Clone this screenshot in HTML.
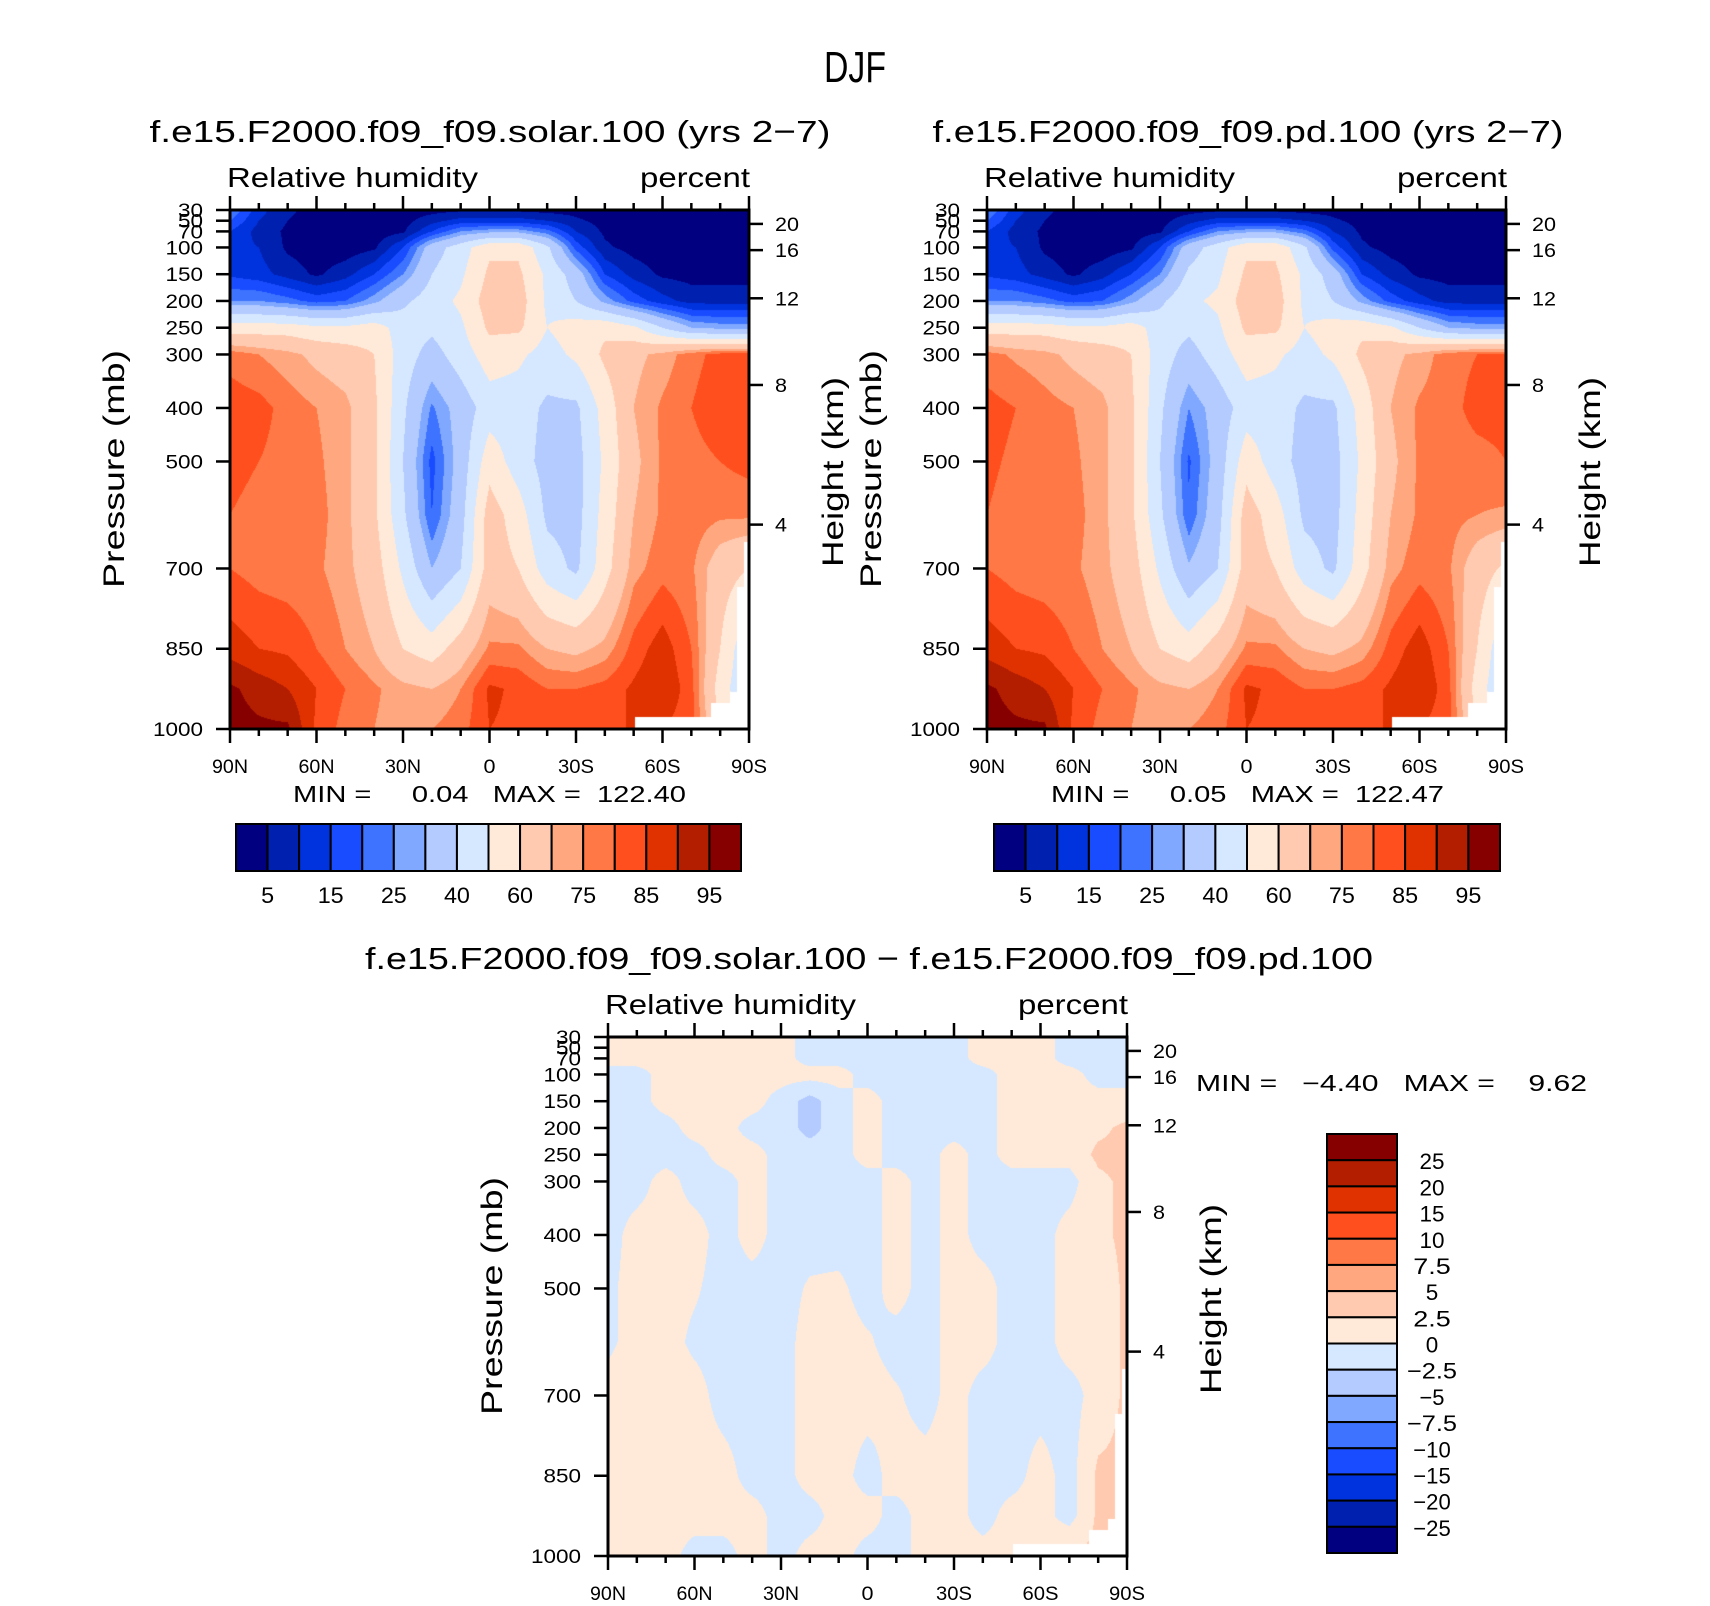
<!DOCTYPE html>
<html><head><meta charset="utf-8">
<style>
html,body{margin:0;padding:0;background:#fff;}
#wrap{position:relative;width:1710px;height:1606px;overflow:hidden;background:#fff;}
canvas{position:absolute;}
svg{position:absolute;left:0;top:0;}
text{font-family:"Liberation Sans",sans-serif;fill:#000;white-space:pre;}
</style></head>
<body>
<div id="wrap">
<canvas id="c1" width="519" height="519" style="left:230px;top:210px"></canvas>
<canvas id="c2" width="519" height="519" style="left:987px;top:210px"></canvas>
<canvas id="c3" width="519" height="519" style="left:608px;top:1037px"></canvas>
<svg id="ov" width="1710" height="1606"></svg>
</div>
<script>
// ---- data ----
const pressureLevels=[30,50,70,100,150,200,250,300,400,500,600,700,850,925,1000];
const latitudes=[90,80,70,60,50,40,30,20,10,0,-10,-20,-30,-40,-50,-60,-70,-80,-90];
const rhSolar=[
[25,12,6,3,2,2,2,3,4,4,4,3,3,2,2,2,2,2,2],
[20,10,5,3,2,2,3,8,12,12,12,10,6,3,2,2,2,2,2],
[15,8,4,3,2,2,4,15,25,28,28,22,10,4,2,2,2,2,2],
[12,10,4,2,2,4,15,35,45,58,58,42,18,6,3,2,2,2,2],
[14,12,8,4,8,15,25,40,48,62,62,48,35,15,8,4,3,3,3],
[25,25,22,18,20,28,38,45,52,65,65,48,40,28,18,12,8,8,8],
[55,55,55,52,52,55,45,42,48,62,62,50,55,58,52,40,30,28,28],
[78,75,72,68,65,60,45,36,45,55,52,46,52,62,68,72,78,82,82],
[83,82,78,75,72,62,42,24,34,45,45,38,38,54,70,76,80,84,84],
[82,80,78,76,72,62,40,18,34,56,45,36,36,52,68,76,78,80,82],
[80,78,77,77,72,62,42,20,36,65,55,38,36,54,70,76,78,76,76],
[80,78,77,76,72,65,48,30,40,65,60,45,38,56,73,78,76,65,60],
[88,85,84,80,75,70,60,55,65,76,76,70,68,72,82,88,80,60,40],
[96,93,90,85,80,76,72,70,75,86,84,80,80,82,86,90,82,55,40],
[97,96,96,84,78,75,72,75,78,85,84,82,84,85,85,85,82,60,50]];
const rhPd=[
[25,12,6,3,2,2,2,3,4,4,4,3,3,2,2,2,2,2,2],
[20,10,5,3,2,2,3,8,12,12,12,10,6,3,2,2,2,2,2],
[15,8,4,3,2,2,4,15,25,28,28,22,10,4,2,2,2,2,2],
[12,10,4,2,2,4,15,35,45,58,58,42,18,6,3,2,2,2,2],
[14,12,8,4,8,15,25,42,48,62,62,48,35,15,8,4,3,3,3],
[25,25,22,18,20,28,38,48,52,65,65,48,40,28,18,12,8,8,8],
[55,55,55,52,52,55,45,42,48,62,62,50,55,58,52,40,30,28,28],
[77,74,72,68,65,60,45,36,45,55,52,46,52,62,68,72,78,80,80],
[82,80,77,75,72,62,42,25,34,45,45,38,38,54,70,76,78,82,82],
[81,79,78,76,72,62,40,19,34,56,45,36,36,52,68,76,77,78,80],
[80,78,77,77,72,62,42,21,36,65,55,38,36,54,70,76,77,75,74],
[80,78,77,76,72,65,48,31,40,65,60,45,38,56,73,78,76,65,58],
[88,85,84,80,75,70,60,55,65,76,76,70,68,72,82,88,80,60,40],
[96,93,90,85,80,76,72,70,75,86,84,80,80,82,86,90,82,55,40],
[97,96,96,84,78,75,72,75,78,85,84,82,84,85,85,85,82,60,50]];
const rhDiff=[
[1,1,1,1,1,1,1,-1,-1,-1,-1,-1,-1,1,1,1,-1,-1,-1],
[1,1,1,1,1,1,1,-1,-1,-1,-1,-1,-1,1,1,1,-1,-1,-1],
[1,1,1,1,1,1,1,-1,-1,-1,-1,-1,-1,1,1,1,-1,-1,-1],
[-1,-1,1,1,1,1,1,1,1,-1,-1,-1,-1,-1,1,1,1,-1,-1],
[-1,-1,1,1,1,1,-1,-3.5,-1,1,-1,-1,-1,-1,1,1,1,1,1],
[-1,-1,-1,1,1,-1,-1,-3.5,-1,1,-1,-1,-1,-1,1,1,1,2,3],
[-1,-1,-1,-1,1,1,-1,-1,-1,1,-1,-1,1,-1,1,1,1,3,3],
[-1,-1,1,-1,-1,1,-1,-1,-1,-1,1,-1,1,-1,-1,-1,-1,2,3],
[-1,1,1,1,-1,1,-1,-1,-1,-1,1,-1,1,-1,-1,-1,1,2,3],
[-0.5,1,1,0.3,-1,-1,-1,0.3,0.5,-1,1,-1,1,1,-1,-1,1,1,3],
[-0.5,1,1,-0.5,-1,-1,-1,1,1,0.3,-1,-1,1,1,-1,-1,1,1,3],
[1,1,1,1,-1,-1,-1,1,1,1,0.3,-1,1,-1,-1,-1,-1,1,3],
[1,1,1,1,1,-1,-1,1,1,-1,1,1,1,-1,-1,1,-1,3,3],
[1,1,1,1,1,1,-1,-1,1,1,-1,1,1,-1,1,1,-1,3,3],
[1,1,1,-1,-1,1,-1,1,1,-1,-1,1,1,1,1,1,3,3,3]];
// missing-data region (lat south bound, pressure bound)
const missingLat=[-50.6,-76.8,-83.4,-85.8,-88.2];
const missingP=[977,952,930,735,650];
const rhLevels=[5,10,15,20,25,30,40,50,60,70,75,80,85,90,95];
const diffLevels=[-25,-20,-15,-10,-7.5,-5,-2.5,0,2.5,5,7.5,10,15,20,25];
const rhBarLabels=["5","15","25","40","60","75","85","95"];
const diffBarLabels=["25","20","15","10","7.5","5","2.5","0","\u22122.5","\u22125","\u22127.5","\u221210","\u221215","\u221220","\u221225"];
const pTicks=[30,50,70,100,150,200,250,300,400,500,700,850,1000];
const kmTicks=[20,16,12,8,4];
const kmTickP=[56,105,195,357,618];
const latTicks=[90,60,30,0,-30,-60,-90];
const latTickLabels=["90N","60N","30N","0","30S","60S","90S"];
const palette=["#000080","#0020b0","#0033dd","#1a4cff","#3d73ff","#80a8ff","#b3cbff","#d6e8ff","#ffeada","#ffcab0","#ffa880","#ff7845","#ff4f1e","#e03200","#b31e00","#870000"];

const W=519,H=519;
function xScale(x0,lat){return x0+(90-lat)/180*W;}
function yScale(y0,p){return y0+(p-30)/970*H;}
function hex(c){return [parseInt(c.slice(1,3),16),parseInt(c.slice(3,5),16),parseInt(c.slice(5,7),16)];}
const palRGB=palette.map(hex);
function sample(grid,lat,p){
  let fi=(90-lat)/10; let i0=Math.min(17,Math.floor(fi)); let tx=fi-i0;
  let j0=0; while(j0<pressureLevels.length-2 && p>pressureLevels[j0+1]) j0++;
  let ty=(p-pressureLevels[j0])/(pressureLevels[j0+1]-pressureLevels[j0]); ty=Math.max(0,Math.min(1,ty));
  const a=grid[j0][i0],b=grid[j0][i0+1],c=grid[j0+1][i0],d=grid[j0+1][i0+1];
  return (a*(1-tx)+b*tx)*(1-ty)+(c*(1-tx)+d*tx)*ty;
}
function isMissing(lat,p){for(let k=0;k<missingLat.length;k++){if(lat<=missingLat[k]&&p>=missingP[k])return true;}return false;}
function drawField(id,grid,levels){
  const cv=document.getElementById(id),ctx=cv.getContext('2d');
  const img=ctx.createImageData(W,H);
  for(let y=0;y<H;y++){const p=30+(y+0.5)/H*970;
    for(let x=0;x<W;x++){const lat=90-(x+0.5)/W*180;const o=(y*W+x)*4;
      if(isMissing(lat,p)){img.data[o]=255;img.data[o+1]=255;img.data[o+2]=255;img.data[o+3]=255;continue;}
      const v=sample(grid,lat,p);let k=0;while(k<levels.length&&v>=levels[k])k++;
      const c=palRGB[k];img.data[o]=c[0];img.data[o+1]=c[1];img.data[o+2]=c[2];img.data[o+3]=255;}}
  ctx.putImageData(img,0,0);
}
drawField('c1',rhSolar,rhLevels);
drawField('c2',rhPd,rhLevels);
drawField('c3',rhDiff,diffLevels);

const svg=document.getElementById('ov');const NS='http://www.w3.org/2000/svg';
function el(tag,attrs,parent){const e=document.createElementNS(NS,tag);for(const k in attrs)e.setAttribute(k,attrs[k]);(parent||svg).appendChild(e);return e;}
function txt(s,x,y,size,anchor,name,extra){const t=el('text',Object.assign({x:x,y:y,'font-size':size,'text-anchor':anchor||'start'},extra||{}));t.textContent=s;
  
  
  return t;}

txt('DJF',855,82,44,'middle','figure-title',{textLength:62,lengthAdjust:'spacingAndGlyphs'});

function panel(x0,y0,prefix,title,titleX,titleLen,relX,showTitle){
  const g=el('g',{});
  
  
  if(showTitle){txt(title,titleX,y0-68,31,'middle',prefix+'-title',{textLength:titleLen,lengthAdjust:'spacingAndGlyphs'});}
  txt('Relative humidity',x0-3,y0-23,28,'start',prefix+'-variable-label',{textLength:251,lengthAdjust:'spacingAndGlyphs'});
  txt('percent',x0+W+1,y0-23,28,'end',prefix+'-units-label',{textLength:110,lengthAdjust:'spacingAndGlyphs'});
  el('rect',{x:x0,y:y0,width:W,height:H,fill:'none',stroke:'#000','stroke-width':3},g);
  for(let lat=90;lat>=-90;lat-=10){const x=xScale(x0,lat);const major=(lat%30===0);const L=major?14:7;
    el('line',{x1:x,y1:y0+H,x2:x,y2:y0+H+L,stroke:'#000','stroke-width':2.5},g);
    el('line',{x1:x,y1:y0,x2:x,y2:y0-L,stroke:'#000','stroke-width':2.5},g);}
  latTicks.forEach((lat,i)=>{txt(latTickLabels[i],xScale(x0,lat),y0+H+44,19,'middle',prefix+'-x-tick-label',{textLength:latTickLabels[i].length*12,lengthAdjust:'spacingAndGlyphs'});});
  pTicks.forEach(p=>{const y=yScale(y0,p);el('line',{x1:x0-14,y1:y,x2:x0,y2:y,stroke:'#000','stroke-width':2.5},g);
    const s=String(p);txt(s,x0-27,y+7,19,'end',prefix+'-y-tick-label',{textLength:s.length*12.5,lengthAdjust:'spacingAndGlyphs'});});
  kmTicks.forEach((km,i)=>{const y=yScale(y0,kmTickP[i]);el('line',{x1:x0+W,y1:y,x2:x0+W+14,y2:y,stroke:'#000','stroke-width':2.5},g);
    const s=String(km);txt(s,x0+W+26,y+7,19,'start',prefix+'-right-tick-label',{textLength:s.length*12,lengthAdjust:'spacingAndGlyphs'});});
  const lx=x0-106,ly=y0+259;
  txt('Pressure (mb)',lx,ly,30,'middle',prefix+'-y-axis-title',{transform:'rotate(-90 '+lx+' '+ly+')',textLength:238,lengthAdjust:'spacingAndGlyphs'});
  const rx=x0+W+94,ry=y0+262;
  txt('Height (km)',rx,ry,30,'middle',prefix+'-right-axis-title',{transform:'rotate(-90 '+rx+' '+ry+')',textLength:190,lengthAdjust:'spacingAndGlyphs'});
}
panel(230,210,'solar','f.e15.F2000.f09_f09.solar.100 (yrs 2\u22127)',490,681,0,true);
panel(987,210,'pd','f.e15.F2000.f09_f09.pd.100 (yrs 2\u22127)',1248,631,0,true);
panel(608,1037,'diff','',0,0,0,false);
txt('f.e15.F2000.f09_f09.solar.100 \u2212 f.e15.F2000.f09_f09.pd.100',869,969,31,'middle','diff-title',{textLength:1008,lengthAdjust:'spacingAndGlyphs'});

txt('MIN =     0.04   MAX =  122.40',293,802,23,'start','solar-min-max',{textLength:393,lengthAdjust:'spacingAndGlyphs'});
txt('MIN =     0.05   MAX =  122.47',1051,802,23,'start','pd-min-max',{textLength:393,lengthAdjust:'spacingAndGlyphs'});
txt('MIN =   \u22124.40   MAX =    9.62',1196,1091,23,'start','diff-min-max',{textLength:391,lengthAdjust:'spacingAndGlyphs'});

function hbar(x0,y0,w,h,prefix){
  const n=palette.length,bw=w/n;
  palette.forEach((c,i)=>{const r=el('rect',{x:x0+i*bw,y:y0,width:bw,height:h,fill:c,stroke:'#000','stroke-width':2});
    
    });
  rhBarLabels.forEach((s,i)=>{const x=x0+(2*i+1)*bw;txt(s,x,y0+h+32,22,'middle',prefix+'-colorbar-label',{textLength:s.length*13,lengthAdjust:'spacingAndGlyphs'});});
}
hbar(236,824,505,47,'solar');
hbar(994,824,506,47,'pd');
(function(){const x0=1327,y0=1134,w=70,h=419,n=palette.length,bh=h/n;
  palette.slice().reverse().forEach((c,i)=>{const r=el('rect',{x:x0,y:y0+i*bh,width:w,height:bh,fill:c,stroke:'#000','stroke-width':2});
    
    });
  diffBarLabels.forEach((s,i)=>{const y=y0+(i+1)*bh;txt(s,1432,y+9,22,'middle','diff-colorbar-label',{textLength:s.length*12.5,lengthAdjust:'spacingAndGlyphs'});});
})();
</script>
</body></html>
